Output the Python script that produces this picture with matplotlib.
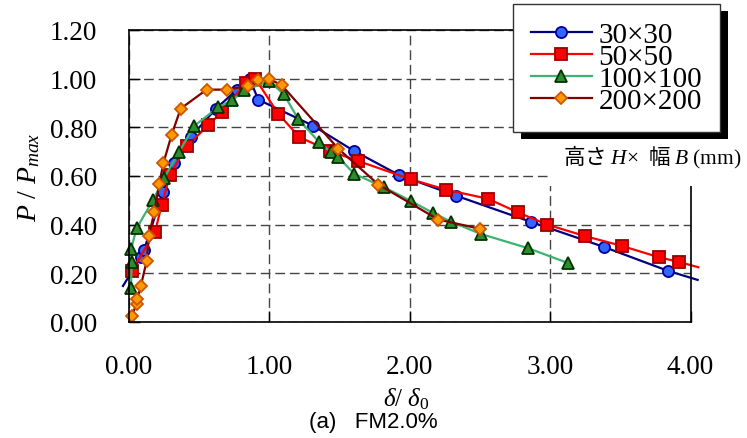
import matplotlib
matplotlib.use('Agg')
import matplotlib.pyplot as plt
from matplotlib.patches import Rectangle

plt.rcParams['font.family'] = ['Liberation Serif', 'Noto Sans CJK JP']
plt.rcParams['mathtext.fontset'] = 'custom'
plt.rcParams['mathtext.rm'] = 'Liberation Serif'
plt.rcParams['mathtext.it'] = 'Liberation Serif:italic'
plt.rcParams['mathtext.bf'] = 'Liberation Serif:bold'

labels = ['30×30', '50×50', '100×100', '200×200']

# 30x30 (first and last points lie just outside the plot, no marker)
x_30 = [-0.043, 0.085, 0.107, 0.242, 0.32, 0.44, 0.62, 0.77, 0.86, 0.92, 1.31,
        1.60, 1.92, 2.33, 2.86, 3.38, 3.84, 4.05]
y_30 = [0.148, 0.267, 0.296, 0.535, 0.654, 0.761, 0.877, 0.955, 1.0, 0.914, 0.807,
        0.704, 0.605, 0.519, 0.412, 0.309, 0.21, 0.173]

# 50x50 (last point just outside the plot, no marker)
x_50 = [0.019, 0.185, 0.233, 0.292, 0.41, 0.565, 0.66, 0.833, 0.90, 1.063, 1.213,
        1.43, 1.63, 2.01, 2.256, 2.559, 2.768, 2.98, 3.248, 3.509, 3.775, 3.917, 4.055]
y_50 = [0.21, 0.369, 0.481, 0.605, 0.723, 0.808, 0.863, 0.982, 1.0, 0.856, 0.76,
        0.703, 0.662, 0.586, 0.544, 0.506, 0.451, 0.40, 0.353, 0.313, 0.266, 0.247, 0.225]

# 100x100
x_100 = [0.014, 0.019, 0.014, 0.055, 0.173, 0.251, 0.356, 0.463, 0.636, 0.736, 0.821,
         1.0, 1.104, 1.205, 1.355, 1.437, 1.491, 1.603, 1.816, 2.009, 2.163, 2.291,
         2.505, 2.844, 3.124]
y_100 = [0.139, 0.246, 0.30, 0.386, 0.503, 0.593, 0.698, 0.805, 0.883, 0.911, 0.952,
         0.99, 0.935, 0.834, 0.739, 0.698, 0.678, 0.609, 0.554, 0.497, 0.449, 0.413,
         0.362, 0.303, 0.243]

# 200x200
x_200 = [0.019, 0.055, 0.059, 0.085, 0.126, 0.142, 0.18, 0.216, 0.245, 0.304, 0.368,
         0.553, 0.696, 0.85, 0.921, 0.995, 1.088, 1.491, 1.776, 2.203, 2.5]
y_200 = [0.026, 0.074, 0.095, 0.149, 0.252, 0.355, 0.451, 0.568, 0.653, 0.77, 0.877,
         0.955, 0.955, 0.97, 0.993, 1.0, 0.973, 0.712, 0.565, 0.421, 0.383]

x_ticks = [0, 1, 2, 3, 4]
y_ticks = [0, 0.2, 0.4, 0.6, 0.8, 1.0, 1.2]

W, H = 747, 439
fig = plt.figure(figsize=(W / 100, H / 100), dpi=100)
ax = fig.add_axes([129 / W, 1 - 323 / H, (690.6 - 129) / W, (323 - 31) / H])

series = [
    (x_30, y_30, dict(color='#000080', marker='o', mfc='#3366ff', mec='#000099', ms=8),
     list(range(1, len(x_30) - 1))),
    (x_50, y_50, dict(color='#ff0000', marker='s', mfc='#ff0000', mec='#990000', ms=8),
     list(range(0, len(x_50) - 1))),
    (x_100, y_100, dict(color='#3cb371', marker='^', mfc='#2e8b2e', mec='#003300', ms=9),
     None),
    (x_200, y_200, dict(color='#800000', marker='D', mfc='#ff9900', mec='#cc5500', ms=6),
     None),
]
handles = []
for (xs, ys, st, mk), lab in zip(series, labels):
    ln, = ax.plot(xs, ys, lw=1.6, mew=1.3, markevery=mk, clip_on=False, label=lab, **st)
    handles.append(ln)

ax.set_xlim(0, 4)
ax.set_ylim(0, 1.2)
ax.set_xticks(x_ticks)
ax.set_xticklabels(['%.2f' % v for v in x_ticks])
ax.set_yticks(y_ticks)
ax.set_yticklabels(['%.2f' % v for v in y_ticks])
ax.tick_params(direction='in', length=8, width=1, labelsize=19.5, pad=23)
ax.set_axisbelow(True)
ax.grid(True, ls=(0, (7, 3.5)), color='#444444', lw=1)
for sp in ax.spines.values():
    sp.set_linewidth(1.2)

ax.set_ylabel(r'$P\ /\ P_{max}$', fontsize=20)
ax.yaxis.set_label_coords(-0.155, 0.5)
ax.set_xlabel(r'$\delta/\ \delta_{0}$', fontsize=18)
ax.xaxis.set_label_coords(0.493, -0.216)

fig.text(0.5, 1 - 423 / H, '(a)   FM2.0%', family='Liberation Sans', fontsize=16,
         ha='center', va='center')

# white box behind the unit note
fig.add_artist(Rectangle((549 / W, 1 - 187 / H), 200 / W, 49 / H, transform=fig.transFigure,
                         facecolor='white', edgecolor='none', zorder=2))
fig.text(563 / W, 1 - 157.5 / H, r'高さ $H\mathrm{×}$  幅 $B$ $\mathrm{(mm)}$',
         family='Noto Sans CJK JP', fontsize=15.5, ha='left', va='center', zorder=3)

leg = fig.legend(handles, labels, loc='upper left', bbox_to_anchor=(513 / W, 1 - 5 / H),
                 borderaxespad=0, fontsize=21, fancybox=False, framealpha=1,
                 edgecolor='#333333', borderpad=0.6, labelspacing=-0.15,
                 handlelength=2.1, handletextpad=0.23)
leg.get_frame().set_linewidth(1.0)
leg.set_zorder(6)

# hard black drop shadow under the legend
fig.canvas.draw()
bb = leg.get_window_extent().transformed(fig.transFigure.inverted())
fig.add_artist(Rectangle((bb.x0 + 8 / W, bb.y0 - 7 / H), bb.width, bb.height,
                         transform=fig.transFigure, facecolor='black',
                         edgecolor='none', zorder=5))

fig.savefig('out.png', dpi=100)
